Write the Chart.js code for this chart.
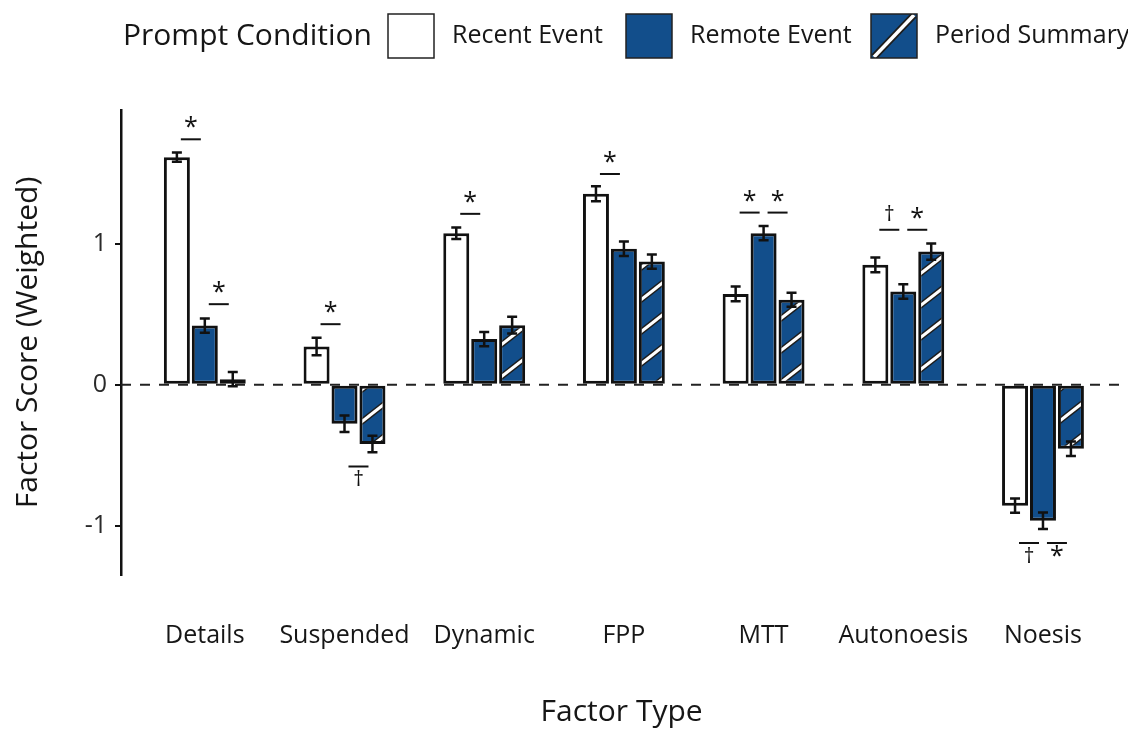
<!DOCTYPE html>
<html>
<head>
<meta charset="utf-8">
<script src="https://cdn.jsdelivr.net/npm/chart.js@4/dist/chart.umd.min.js"></script>
<style>
  html, body { margin: 0; padding: 0; background: #fff; }
</style>
</head>
<body>
<canvas id="chart" width="1128" height="729"></canvas>
<script>
const factors = ['Details', 'Suspended', 'Dynamic', 'FPP', 'MTT', 'Autonoesis', 'Noesis'];
const conditions = ['Recent Event', 'Remote Event', 'Period Summary'];

const recentMean = [1.615, 0.272, 1.076, 1.355, 0.645, 0.851, -0.858];
const recentErr  = [0.033, 0.062, 0.041, 0.053, 0.053, 0.052, 0.051];
const remoteMean = [0.42, -0.277, 0.324, 0.965, 1.076, 0.662, -0.965];
const remoteErr  = [0.051, 0.059, 0.05, 0.051, 0.05, 0.052, 0.059];
const periodMean = [0.04, -0.42, 0.423, 0.874, 0.603, 0.945, -0.454];
const periodErr  = [0.05, 0.059, 0.06, 0.05, 0.05, 0.057, 0.051];

const yTicks = [-1, 0, 1];

// significance marks: factor, left bar of the compared pair, bracket height, symbol
const sigFactor = [0, 0, 1, 1, 2, 3, 4, 4, 5, 5, 6, 6];
const sigPair   = [0, 1, 0, 1, 0, 0, 0, 1, 0, 1, 0, 1];
const sigLevel  = [1.742, 0.572, 0.43, -0.58, 1.213, 1.496, 1.222, 1.222, 1.10, 1.10, -1.123, -1.123];
const sigMark   = ['*', '*', '*', '†', '*', '*', '*', '*', '†', '*', '†', '*'];

const BLUE = '#124e8b';
const EDGE = '#111111';
const INK = '#161616';
const FONT = "'Open Sans', sans-serif";
Chart.defaults.font.family = FONT;
Chart.defaults.color = INK;

// white diagonal stripes over blue, like the ggpattern fill
function makeStripes() {
    const c = document.createElement('canvas');
    c.width = 41;
    c.height = 32;
    const g = c.getContext('2d');
    g.fillStyle = BLUE;
    g.fillRect(0, 0, 41, 32);
    [['#1d1d1d', 6], ['#ffffff', 3]].forEach(([col, w]) => {
        g.strokeStyle = col;
        g.lineWidth = w;
        for (let k = 0; k <= 2; k++) {
            g.beginPath();
            g.moveTo(-41, 32 * k + 32);
            g.lineTo(82, 32 * k - 64);
            g.stroke();
        }
    });
    return g.createPattern(c, 'repeat');
}
const stripes = makeStripes();

const series = means => means.map((v, i) => ({ x: i + 1, y: v }));
const barStyle = {
    borderColor: EDGE,
    borderWidth: 3,
    borderSkipped: false,
    categoryPercentage: 0.6,
    barPercentage: 0.93
};

const zeroLine = {
    id: 'zeroLine',
    beforeDatasetsDraw(chart) {
        const { ctx, chartArea, scales: { y } } = chart;
        const py = y.getPixelForValue(0);
        ctx.save();
        ctx.strokeStyle = '#222';
        ctx.lineWidth = 2;
        ctx.setLineDash([10, 9]);
        ctx.beginPath();
        ctx.moveTo(chartArea.left, py);
        ctx.lineTo(chartArea.right, py);
        ctx.stroke();
        ctx.restore();
    }
};

const errorBars = {
    id: 'errorBars',
    afterDatasetsDraw(chart) {
        const { ctx, scales: { y } } = chart;
        ctx.save();
        ctx.strokeStyle = '#111';
        ctx.lineWidth = 2.5;
        chart.data.datasets.forEach((ds, d) => {
            chart.getDatasetMeta(d).data.forEach((bar, i) => {
                const m = ds.data[i].y, e = ds.err[i];
                const top = y.getPixelForValue(m + e);
                const bot = y.getPixelForValue(m - e);
                ctx.beginPath();
                ctx.moveTo(bar.x, top);
                ctx.lineTo(bar.x, bot);
                ctx.moveTo(bar.x - 5, top);
                ctx.lineTo(bar.x + 5, top);
                ctx.moveTo(bar.x - 5, bot);
                ctx.lineTo(bar.x + 5, bot);
                ctx.stroke();
            });
        });
        ctx.restore();
    }
};

const sigMarks = {
    id: 'sigMarks',
    afterDatasetsDraw(chart) {
        const { ctx, scales: { y } } = chart;
        ctx.save();
        ctx.strokeStyle = '#111';
        ctx.fillStyle = '#111';
        ctx.lineWidth = 2;
        ctx.textAlign = 'center';
        ctx.textBaseline = 'middle';
        sigFactor.forEach((f, k) => {
            const a = chart.getDatasetMeta(sigPair[k]).data[f];
            const b = chart.getDatasetMeta(sigPair[k] + 1).data[f];
            const xc = (a.x + b.x) / 2;
            const py = y.getPixelForValue(sigLevel[k]);
            ctx.beginPath();
            ctx.moveTo(xc - 10, py);
            ctx.lineTo(xc + 10, py);
            ctx.stroke();
            const below = sigLevel[k] < 0;
            ctx.font = sigMark[k] === '*' ? `25px ${FONT}` : `21px ${FONT}`;
            ctx.fillText(sigMark[k], xc, py + (below ? 14 : (sigMark[k] === '*' ? -11 : -15)));
        });
        ctx.restore();
    }
};

// legend in one row with its title on the left
const legendRow = {
    id: 'legendRow',
    afterDraw(chart) {
        const { ctx } = chart;
        const boxX = [388, 626, 871];
        const fills = ['#ffffff', BLUE, BLUE];
        ctx.save();
        ctx.fillStyle = INK;
        ctx.textBaseline = 'middle';
        ctx.font = `30px ${FONT}`;
        ctx.fillText('Prompt Condition', 123, 36);
        conditions.forEach((name, i) => {
            const x = boxX[i], top = 14, w = 46, h = 44;
            ctx.fillStyle = fills[i];
            ctx.fillRect(x, top, w, h);
            if (i === 2) {
                ctx.save();
                ctx.beginPath();
                ctx.rect(x, top, w, h);
                ctx.clip();
                [['#1d1d1d', 7], ['#ffffff', 3.5]].forEach(([col, lw]) => {
                    ctx.strokeStyle = col;
                    ctx.lineWidth = lw;
                    ctx.beginPath();
                    ctx.moveTo(x + 3, top + h - 1);
                    ctx.lineTo(x + w - 3, top + 1);
                    ctx.stroke();
                });
                ctx.restore();
            }
            ctx.strokeStyle = '#222';
            ctx.lineWidth = 1.5;
            ctx.strokeRect(x, top, w, h);
            ctx.fillStyle = INK;
            ctx.font = `25px ${FONT}`;
            ctx.fillText(name, x + w + 18, 36);
        });
        ctx.restore();
    }
};

new Chart(document.getElementById('chart'), {
    type: 'bar',
    data: {
        datasets: [
            { ...barStyle, label: conditions[0], data: series(recentMean), err: recentErr, backgroundColor: '#ffffff' },
            { ...barStyle, label: conditions[1], data: series(remoteMean), err: remoteErr, backgroundColor: BLUE },
            { ...barStyle, label: conditions[2], data: series(periodMean), err: periodErr, backgroundColor: stripes }
        ]
    },
    options: {
        responsive: false,
        animation: false,
        layout: { padding: { top: 110, left: 0, right: 0, bottom: 0 } },
        plugins: {
            legend: { display: false },
            tooltip: { enabled: false }
        },
        scales: {
            x: {
                type: 'linear',
                offset: false,
                min: 0.4,
                max: 7.567,
                afterBuildTicks: s => { s.ticks = factors.map((_, i) => ({ value: i + 1 })); },
                afterFit: s => { s.height = 154; },
                grid: { display: false, drawTicks: false },
                border: { display: false },
                ticks: {
                    autoSkip: false,
                    maxRotation: 0,
                    padding: 46,
                    font: { size: 25 },
                    callback: v => factors[v - 1]
                },
                title: {
                    display: true,
                    text: 'Factor Type',
                    font: { size: 30, lineHeight: 1.1 },
                    padding: { top: 0, bottom: 0 }
                }
            },
            y: {
                min: -1.35,
                max: 1.95,
                afterBuildTicks: s => { s.ticks = yTicks.map(v => ({ value: v })); },
                afterFit: s => { s.width = 121; },
                grid: { drawOnChartArea: false, color: '#111', lineWidth: 2, tickLength: 6 },
                border: { color: '#111', width: 2.5 },
                ticks: { padding: 8, font: { size: 25 }, color: '#2a2a2a' },
                title: {
                    display: true,
                    text: 'Factor Score (Weighted)',
                    font: { size: 30 },
                    padding: { top: 10 }
                }
            }
        }
    },
    plugins: [zeroLine, errorBars, sigMarks, legendRow]
});
</script>
</body>
</html>
